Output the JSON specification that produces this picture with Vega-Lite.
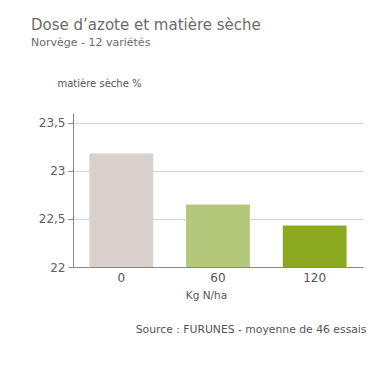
{
  "$schema": "https://vega.github.io/schema/vega-lite/v6.json",
  "autosize": "none",
  "width": 290,
  "height": 154,
  "padding": {"left": 73, "top": 113, "right": 25, "bottom": 121},
  "background": "white",
  "config": {
    "font": "DejaVu Sans",
    "view": {"stroke": null}
  },
  "title": {
    "text": "Dose d’azote et matière sèche",
    "subtitle": "Norvège - 12 variétés",
    "anchor": "start",
    "frame": "group",
    "dx": -42,
    "fontSize": 15,
    "fontWeight": "normal",
    "color": "#6e6a68",
    "subtitleFontSize": 11,
    "subtitleColor": "#6e6a68",
    "subtitlePadding": 4,
    "offset": 30
  },
  "data": {
    "values": [
      {"dose": "0", "ms": 23.18},
      {"dose": "60", "ms": 22.65},
      {"dose": "120", "ms": 22.43}
    ]
  },
  "resolve": {"axis": {"x": "independent"}},
  "layer": [
    {
      "mark": {"type": "bar", "clip": true},
      "encoding": {
        "x": {
          "field": "dose",
          "type": "nominal",
          "sort": null,
          "scale": {"paddingInner": 0.34, "paddingOuter": 0.17},
          "axis": {
            "title": "Kg N/ha",
            "titleFontSize": 10.5,
            "titleFontWeight": "normal",
            "titleColor": "#555",
            "titleX": 133,
            "titleY": 28,
            "titleBaseline": "middle",
            "labelAngle": 0,
            "labelFontSize": 12,
            "labelColor": "#555",
            "labelPadding": 5,
            "ticks": false,
            "domainColor": "#888",
            "domainWidth": 1
          }
        },
        "y": {
          "field": "ms",
          "type": "quantitative",
          "scale": {"domain": [22, 23.6], "nice": false, "zero": false},
          "axis": {
            "values": [22, 22.5, 23, 23.5],
            "format": ".1~f",
            "labelExpr": "replace(datum.label, '.', ',')",
            "labelFontSize": 12,
            "labelColor": "#606060",
            "labelPadding": 3,
            "tickSize": 5,
            "tickColor": "#888",
            "domainColor": "#888",
            "gridColor": "#d4d4d4",
            "title": "matière sèche %",
            "titleAngle": 0,
            "titleX": -16,
            "titleY": -30,
            "titleAlign": "left",
            "titleBaseline": "middle",
            "titleFontSize": 10,
            "titleFontWeight": "normal",
            "titleColor": "#555"
          }
        },
        "color": {
          "field": "dose",
          "type": "nominal",
          "scale": {"domain": ["0", "60", "120"], "range": ["#d7d0cc", "#b4c77a", "#8ca81f"]},
          "legend": null
        }
      }
    },
    {
      "mark": {"type": "bar", "opacity": 0, "clip": true},
      "encoding": {
        "x": {
          "field": "dose",
          "type": "nominal",
          "sort": null,
          "axis": {
            "title": "Source : FURUNES - moyenne de 46 essais",
            "titleFontSize": 10.8,
            "titleFontWeight": "normal",
            "titleColor": "#555",
            "titleX": 293,
            "titleY": 216,
            "titleAlign": "right",
            "titleBaseline": "middle",
            "labels": false,
            "ticks": false,
            "domain": false,
            "grid": false
          }
        },
        "y": {"field": "ms", "type": "quantitative"}
      }
    }
  ]
}
